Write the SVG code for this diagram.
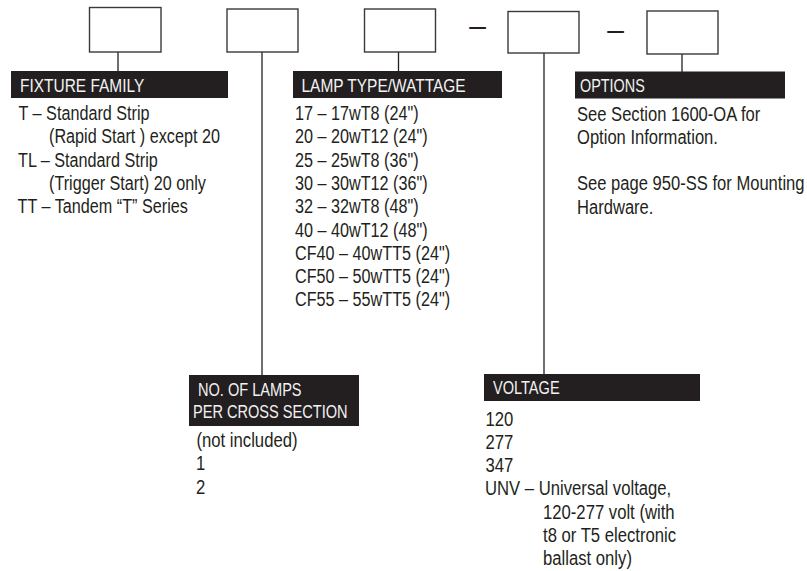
<svg xmlns="http://www.w3.org/2000/svg" width="807" height="571" viewBox="0 0 807 571">
<style>
.box{fill:#fff;stroke:#3a3a3a;stroke-width:1.4}
.bar{fill:#231f20}
.hd{font-family:"Liberation Sans",Arial,sans-serif;font-size:18px;fill:#f2f2f2}
.tx{font-family:"Liberation Sans",Arial,sans-serif;font-size:19.4px;fill:#231f20}
.dash{font-family:"Liberation Sans",Arial,sans-serif;font-size:30px;fill:#231f20;text-anchor:middle}
.con{stroke:#231f20;stroke-width:1.3;fill:none}
</style>
<rect width="807" height="571" fill="#fff"/>

<g id="connectors">
  <line class="con" x1="118" y1="52" x2="118" y2="71"/>
  <line class="con" x1="262" y1="52" x2="262" y2="375"/>
  <line class="con" x1="398.5" y1="52" x2="398.5" y2="71"/>
  <line class="con" x1="544" y1="53" x2="544" y2="374"/>
  <line class="con" x1="682" y1="54" x2="682" y2="72"/>
</g>

<g id="box-fixture-family"><rect class="box" x="89.5" y="7.5" width="71.5" height="44.5"/></g>
<g id="box-no-of-lamps"><rect class="box" x="227" y="9" width="71" height="43"/></g>
<g id="box-lamp-type"><rect class="box" x="364.5" y="9" width="71" height="43"/></g>
<g id="separator-1"><text class="dash" x="477.5" y="35.7">–</text></g>
<g id="box-voltage"><rect class="box" x="508" y="11.5" width="71" height="41.5"/></g>
<g id="separator-2"><text class="dash" x="615.5" y="39.7">–</text></g>
<g id="box-options"><rect class="box" x="647" y="11" width="71" height="43"/></g>

<g id="fixture-family">
  <rect class="bar" x="11" y="71" width="217" height="27"/>
  <text class="hd" transform="translate(20 91.5) scale(0.86 1)">FIXTURE FAMILY</text>
  <text class="tx" transform="translate(18.5 120) scale(0.835 1)">T – Standard Strip</text>
  <text class="tx" transform="translate(49 143.3) scale(0.835 1)">(Rapid Start ) except 20</text>
  <text class="tx" transform="translate(18 166.6) scale(0.835 1)">TL – Standard Strip</text>
  <text class="tx" transform="translate(49 189.9) scale(0.835 1)">(Trigger Start) 20 only</text>
  <text class="tx" transform="translate(17.5 213.2) scale(0.835 1)">TT – Tandem “T” Series</text>
</g>

<g id="lamp-type">
  <rect class="bar" x="293" y="71" width="209" height="27"/>
  <text class="hd" transform="translate(301.5 92) scale(0.86 1)">LAMP TYPE/WATTAGE</text>
  <text class="tx" transform="translate(295 120) scale(0.835 1)">17 – 17wT8 (24")</text>
  <text class="tx" transform="translate(295 143.3) scale(0.835 1)">20 – 20wT12 (24")</text>
  <text class="tx" transform="translate(295 166.6) scale(0.835 1)">25 – 25wT8 (36")</text>
  <text class="tx" transform="translate(295 189.9) scale(0.835 1)">30 – 30wT12 (36")</text>
  <text class="tx" transform="translate(295 213.2) scale(0.835 1)">32 – 32wT8 (48")</text>
  <text class="tx" transform="translate(295 236.5) scale(0.835 1)">40 – 40wT12 (48")</text>
  <text class="tx" transform="translate(295 259.8) scale(0.835 1)">CF40 – 40wTT5 (24")</text>
  <text class="tx" transform="translate(295 283.1) scale(0.835 1)">CF50 – 50wTT5 (24")</text>
  <text class="tx" transform="translate(295 306.4) scale(0.835 1)">CF55 – 55wTT5 (24")</text>
</g>

<g id="options">
  <rect class="bar" x="575" y="71.5" width="210" height="27"/>
  <text class="hd" transform="translate(580 92) scale(0.8 1)">OPTIONS</text>
  <text class="tx" transform="translate(577 120.5) scale(0.855 1)">See Section 1600-OA for</text>
  <text class="tx" transform="translate(577 143.8) scale(0.855 1)">Option Information.</text>
  <text class="tx" transform="translate(577 190.4) scale(0.855 1)">See page 950-SS for Mounting</text>
  <text class="tx" transform="translate(577 213.7) scale(0.855 1)">Hardware.</text>
</g>

<g id="no-of-lamps">
  <rect class="bar" x="189" y="375" width="170" height="51"/>
  <text class="hd" transform="translate(198 395.5) scale(0.81 1)">NO. OF LAMPS</text>
  <text class="hd" transform="translate(193 418) scale(0.81 1)">PER CROSS SECTION</text>
  <text class="tx" transform="translate(196.5 447) scale(0.86 1)">(not included)</text>
  <text class="tx" transform="translate(196 470.3) scale(0.86 1)">1</text>
  <text class="tx" transform="translate(196 493.6) scale(0.86 1)">2</text>
</g>

<g id="voltage">
  <rect class="bar" x="484" y="374" width="216" height="27"/>
  <text class="hd" transform="translate(493 394) scale(0.81 1)">VOLTAGE</text>
  <text class="tx" transform="translate(485.5 425.5) scale(0.86 1)">120</text>
  <text class="tx" transform="translate(485.5 448.8) scale(0.86 1)">277</text>
  <text class="tx" transform="translate(485.5 472.1) scale(0.86 1)">347</text>
  <text class="tx" transform="translate(485 495.4) scale(0.86 1)">UNV – Universal voltage,</text>
  <text class="tx" transform="translate(543 518.7) scale(0.86 1)">120-277 volt (with</text>
  <text class="tx" transform="translate(543 542) scale(0.86 1)">t8 or T5 electronic</text>
  <text class="tx" transform="translate(543 565.3) scale(0.86 1)">ballast only)</text>
</g>
</svg>
